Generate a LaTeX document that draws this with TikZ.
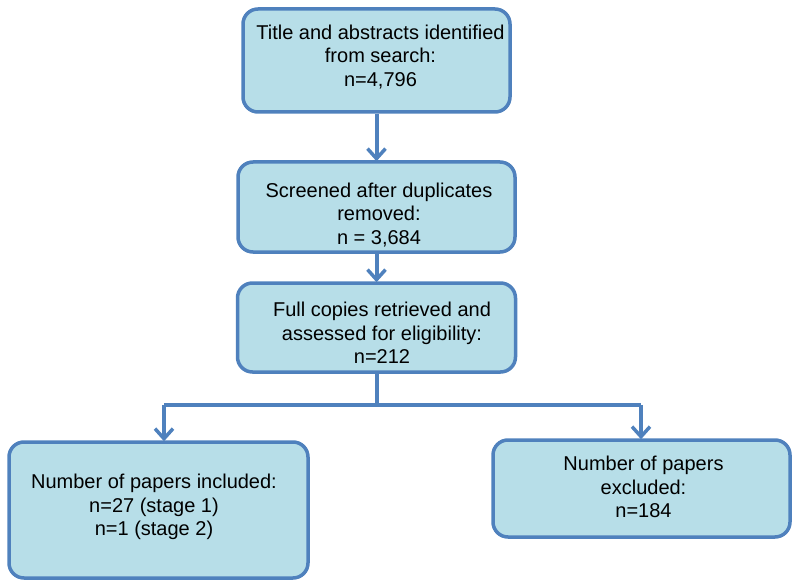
\documentclass[tikz,border=0pt]{standalone}
\usepackage{fontspec}
\setmainfont{Liberation Sans}
\usetikzlibrary{arrows.meta,calc}
\definecolor{boxfill}{HTML}{B7DEE8}
\definecolor{boxline}{HTML}{4F81BD}
\tikzset{
  flowbox/.style={draw=boxline, fill=boxfill, line width=3.5pt, rounded corners=15pt, inner sep=0pt},
  flowtext/.style={align=center, inner sep=0pt, font=\fontsize{20}{23.5}\selectfont, text=black},
  conn/.style={draw=boxline, line width=4pt},
  arr/.style={conn, -{Straight Barb[length=10pt,width=18pt,line width=3.5pt]}, shorten >=-1pt}
}
\begin{document}
\begin{tikzpicture}[x=1pt,y=-1pt]
\useasboundingbox (0,0) rectangle (800,588);
% boxes
\node[flowbox, minimum width=267pt, minimum height=103pt] (b1) at (376.5,60.5) {};
\node[flowbox, minimum width=277pt, minimum height=90pt] (b2) at (376.5,207) {};
\node[flowbox, minimum width=278pt, minimum height=89pt] (b3) at (376.5,327.5) {};
\node[flowbox, minimum width=299pt, minimum height=136pt] (bl) at (158.5,510) {};
\node[flowbox, minimum width=297pt, minimum height=97pt] (br) at (641.5,488.5) {};
% texts
\node[flowtext] (t1) at (380.5,57) {Title and abstracts identified\\from search:\\n=4,796};
\node[flowtext] (t2) at (379,215) {Screened after duplicates\\removed:\\n = 3,684};
\node[flowtext] (t3) at (382,333) {Full copies retrieved and\\assessed for eligibility:\\n=212};
\node[flowtext] (tl) at (154,507) {Number of papers included:\\n=27 (stage 1)\\n=1 (stage 2)};
\node[flowtext] (tr) at (643.5,487) {Number of papers\\excluded:\\n=184};
% connectors
\draw[arr] (b1.south) -- (b2.north);
\draw[arr] (b2.south) -- (b3.north);
\coordinate (j) at (376.5,405);
\coordinate (jl) at (164,405);
\coordinate (jr) at (641,405);
\draw[conn, line cap=rect] (b3.south) -- (j);
\draw[conn, line join=miter] (jr) -- (jl);
\draw[arr] (jl) -- (jl |- bl.north);
\draw[arr] (jr) -- (jr |- br.north);
\end{tikzpicture}
\end{document}
